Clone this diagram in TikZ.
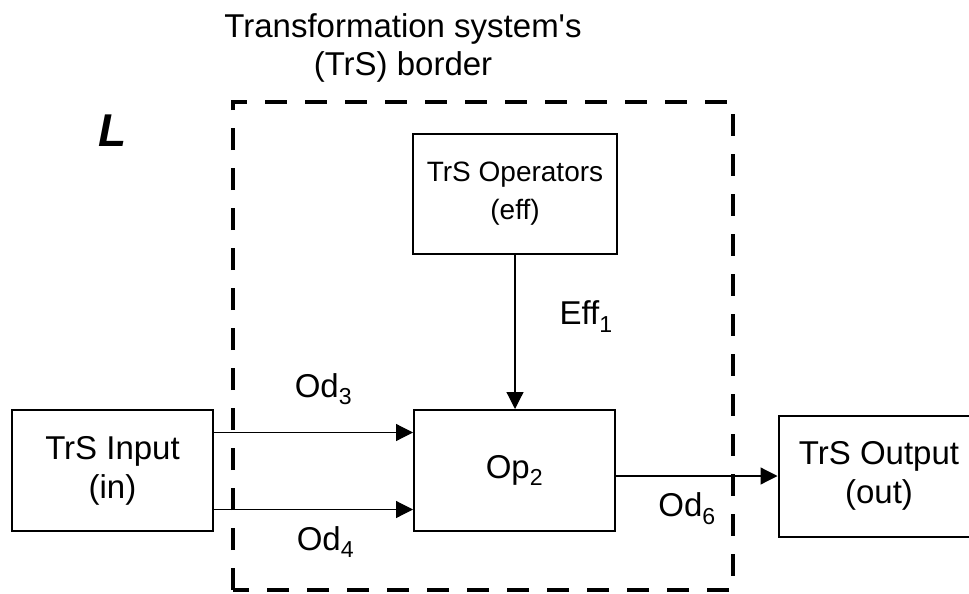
\documentclass[tikz,border=0pt]{standalone}
\usepackage{fontspec}
\setmainfont{Liberation Sans}
\usetikzlibrary{arrows.meta}

\begin{document}
\begin{tikzpicture}[x=1pt,y=-1pt,
        box/.style={draw,line width=2pt,minimum width=201pt,minimum height=121pt,align=center,inner sep=0pt,font=\fontsize{33}{39}\selectfont},
        arr/.style={line width=1.2pt,-{Triangle[length=17pt,width=17pt]}},
        lbl/.style={inner sep=0pt,font=\fontsize{33}{39}\selectfont}]
        \useasboundingbox (0,0) rectangle (969,594);
        \clip (0,0) rectangle (969,594);
        % border of the transformation system
        \draw[line width=3.3pt,dash pattern=on 22pt off 18pt] (233,590) -- (233,102) -- (733,102) -- (733,590) -- cycle;
        \node[inner sep=0pt,align=center,font=\fontsize{33}{38}\selectfont] (title) at (403,48) {Transformation system\textquotesingle s\\(TrS) border};
        \node[inner sep=0pt,font=\fontsize{46}{50}\selectfont\bfseries\itshape] (lname) at (113,131) {L};
        % boxes
        \node[box] (input) at (112.5,470.5) {TrS Input\\(in)};
        \node[box] (op) at (514.5,470.5) {Op\textsubscript{2}};
        \node[box,minimum width=204pt,minimum height=120pt,font=\fontsize{28}{38}\selectfont] (eff) at (515,194) {TrS Operators\\(eff)};
        \node[box] (output) at (879,476) {TrS Output\\(out)};
        % flows
        \draw[arr] (eff.south) -- node[lbl,right=44pt,pos=0.4]{Eff\textsubscript{1}} (eff.south |- op.north);
        \draw[arr] ([yshift=38pt]input.east) -- node[lbl,above=27pt,pos=0.55]{Od\textsubscript{3}} ([yshift=38pt]op.west);
        \draw[arr] ([yshift=-39pt]input.east) -- node[lbl,below=16pt,pos=0.56]{Od\textsubscript{4}} ([yshift=-39pt]op.west);
        \draw[arr] (op.east |- output.west) -- node[lbl,below=16pt,pos=0.44]{Od\textsubscript{6}} (output.west);
    \end{tikzpicture}
\end{document}
